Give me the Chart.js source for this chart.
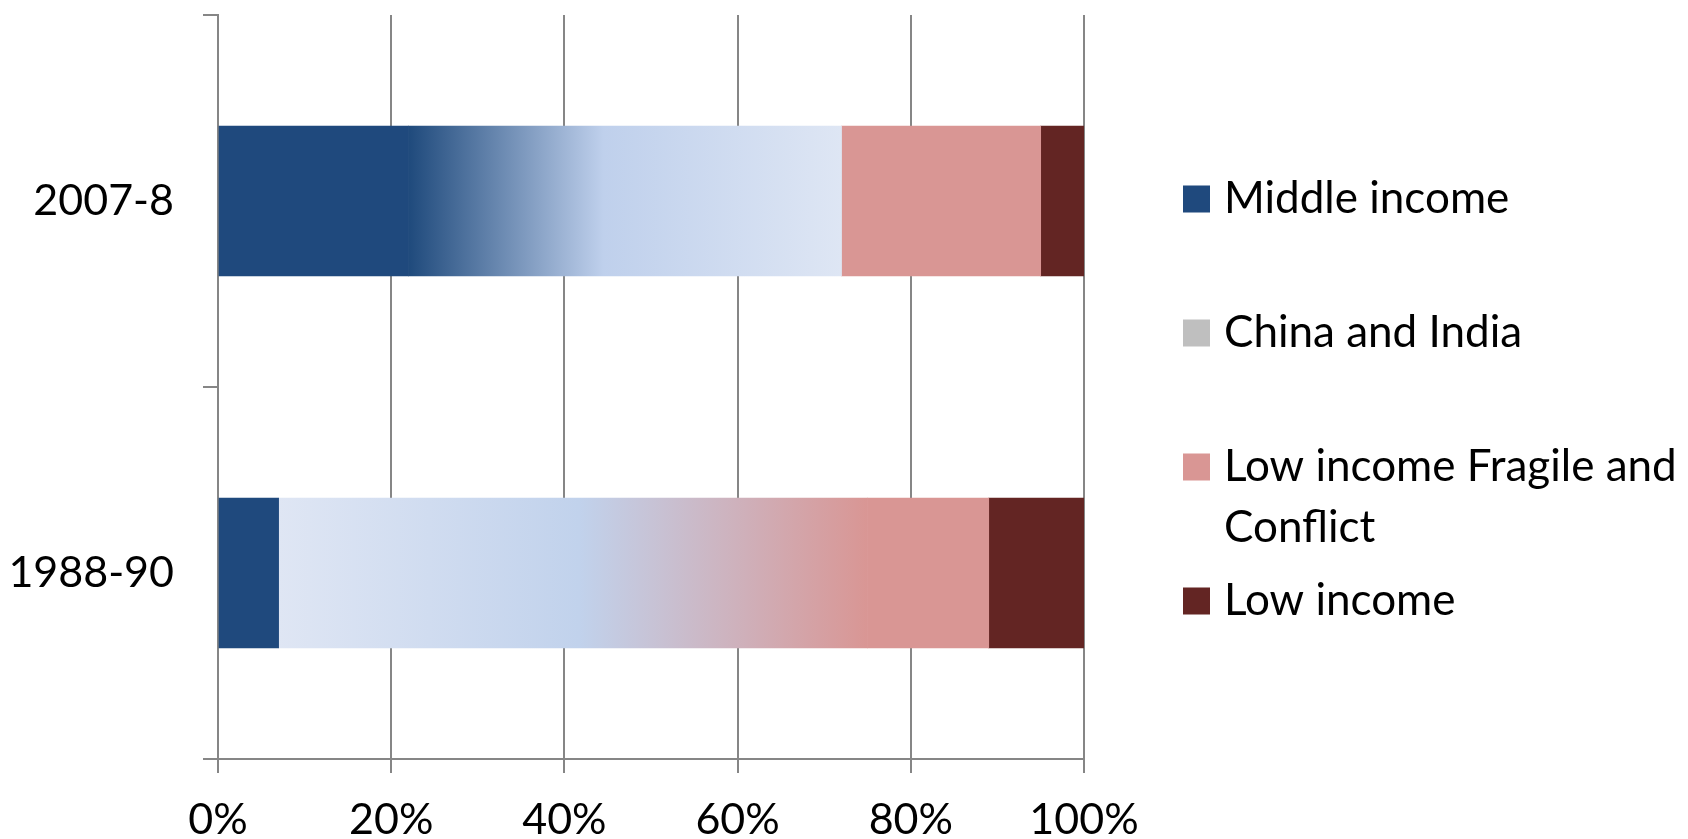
<!DOCTYPE html>
<html>
<head>
<meta charset="utf-8">
<title>Income group shares</title>
<script src="https://cdn.jsdelivr.net/npm/chart.js@4.4.1/dist/chart.umd.min.js"></script>
<style>
  html, body { margin: 0; padding: 0; background: #fff; }
  canvas { display: block; }
</style>
</head>
<body>
<canvas id="shareChart" width="1688" height="839"></canvas>
<script>
// data (percent of total)
const periods = ["2007-8", "1988-90"];
const middleIncome = [22, 7];
const chinaIndia = [50, 68];
const fragileConflict = [23, 14];
const lowIncome = [5, 11];
const xTicks = [0, 20, 40, 60, 80, 100];

const FONT = "Lato, 'Open Sans', sans-serif";
const AXIS_GREY = "#868686";

// the China/India segment has a gradient fill that differs per bar
const chinaStops = [
  [[0, "#1F4A7C"], [0.45, "#BFD0EC"], [1, "#DEE6F4"]],
  [[0, "#DFE6F4"], [0.51, "#C1D2EC"], [1, "#D99694"]],
];

function chinaFill(ctx) {
  const chart = ctx.chart;
  const x = chart.scales.x;
  if (!x || ctx.dataIndex === undefined) return "#BFBFBF";
  const i = ctx.dataIndex;
  const x0 = x.getPixelForValue(middleIncome[i]);
  const x1 = x.getPixelForValue(middleIncome[i] + chinaIndia[i]);
  if (!isFinite(x0) || !isFinite(x1) || x1 <= x0) return "#BFBFBF";
  const g = chart.ctx.createLinearGradient(x0, 0, x1, 0);
  chinaStops[i].forEach(s => g.addColorStop(s[0], s[1]));
  return g;
}

// legend drawn by hand so it can wrap and space like the original
const legendItems = [
  { lines: ["Middle income"], color: "#1F497D", y: 199 },
  { lines: ["China and India"], color: "#BFBFBF", y: 333 },
  { lines: ["Low income Fragile and", "Conflict"], color: "#D99694", y: 467 },
  { lines: ["Low income"], color: "#632523", y: 601 },
];

const sideLegend = {
  id: "sideLegend",
  afterDraw(chart) {
    const c = chart.ctx;
    c.save();
    c.font = "44px " + FONT;
    c.textBaseline = "middle";
    c.textAlign = "left";
    legendItems.forEach(item => {
      c.fillStyle = item.color;
      c.fillRect(1183, item.y - 13.5, 27, 27);
      c.fillStyle = "#000";
      item.lines.forEach((line, k) => c.fillText(line, 1224, item.y + k * 61));
    });
    c.restore();
  }
};

new Chart(document.getElementById("shareChart"), {
  type: "bar",
  data: {
    labels: periods,
    datasets: [
      { label: "Middle income", data: middleIncome, backgroundColor: "#1F497D" },
      { label: "China and India", data: chinaIndia, backgroundColor: chinaFill },
      { label: "Low income Fragile and Conflict", data: fragileConflict, backgroundColor: "#D99694" },
      { label: "Low income", data: lowIncome, backgroundColor: "#632523" },
    ],
  },
  options: {
    indexAxis: "y",
    responsive: false,
    animation: false,
    barThickness: 150,
    layout: { padding: { top: 15, right: 604, left: 0, bottom: 0 } },
    scales: {
      x: {
        stacked: true,
        min: 0,
        max: 100,
        afterBuildTicks: scale => { scale.ticks = xTicks.map(v => ({ value: v })); },
        afterFit: scale => {
          scale.height = 80;
          scale.paddingLeft = 0;
          scale.paddingRight = 0;
        },
        grid: { color: AXIS_GREY, lineWidth: 2, drawTicks: true, tickLength: 14 },
        border: { display: true, color: AXIS_GREY, width: 2 },
        ticks: {
          color: "#000",
          padding: 21,
          font: { family: FONT, size: 43 },
          callback: v => v + "%",
        },
      },
      y: {
        stacked: true,
        afterFit: scale => {
          scale.width = 218;
          scale.paddingTop = 0;
          scale.paddingBottom = 0;
        },
        grid: { color: AXIS_GREY, lineWidth: 2, drawOnChartArea: false, drawTicks: true, tickLength: 15, offset: true },
        border: { display: true, color: AXIS_GREY, width: 2 },
        ticks: {
          color: "#000",
          padding: 29,
          font: { family: FONT, size: 43 },
        },
      },
    },
    plugins: {
      legend: { display: false },
      tooltip: { enabled: false },
    },
  },
  plugins: [sideLegend],
});
</script>
</body>
</html>
